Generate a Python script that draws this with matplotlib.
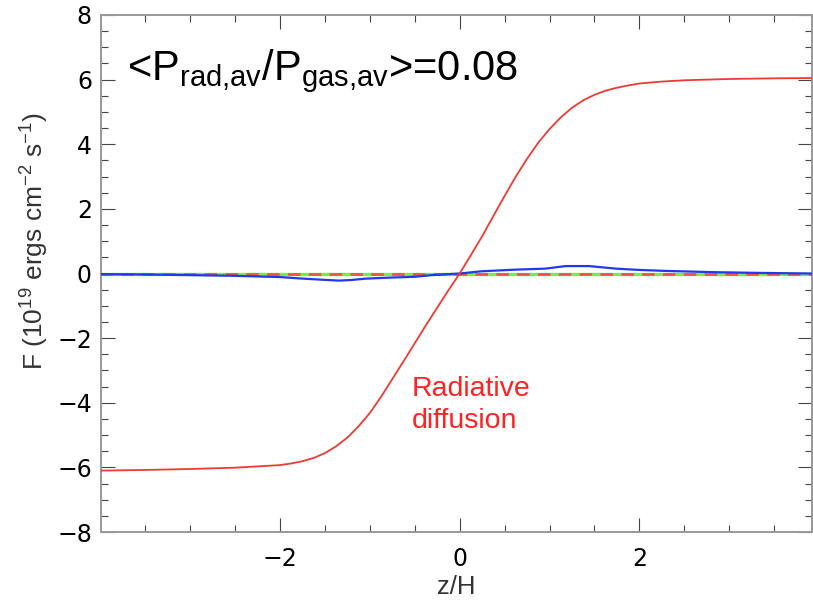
import matplotlib
matplotlib.use('Agg')
import matplotlib.pyplot as plt
from matplotlib.ticker import MultipleLocator, FixedLocator
import numpy as np

plt.rcParams['mathtext.fontset'] = 'custom'
plt.rcParams['mathtext.rm'] = 'Liberation Sans'
plt.rcParams['mathtext.it'] = 'Liberation Sans'

# vertical flux profiles across the disk, z in units of scale height H
z_rad = [-4.0, -3.5, -3.0, -2.5, -2.25, -2.0, -1.875, -1.75, -1.625, -1.5, -1.375,
         -1.25, -1.125, -1.0, -0.875, -0.75, -0.625, -0.5, -0.375, -0.25, -0.125,
         0.0, 0.125, 0.25, 0.375, 0.5, 0.625, 0.75, 0.875, 1.0, 1.125, 1.25, 1.375,
         1.5, 1.625, 1.75, 1.875, 2.0, 2.25, 2.5, 3.0, 3.5, 3.92]
F_rad = [-6.10, -6.08, -6.05, -6.01, -5.97, -5.93, -5.88, -5.81, -5.71, -5.56, -5.35,
         -5.08, -4.73, -4.32, -3.82, -3.27, -2.72, -2.16, -1.60, -1.06, -0.52,
         0.0, 0.57, 1.15, 1.78, 2.40, 3.00, 3.55, 4.05, 4.47, 4.83, 5.13, 5.36,
         5.53, 5.66, 5.75, 5.82, 5.88, 5.94, 5.98, 6.02, 6.04, 6.05]

z_adv = [-4.0, -3.5, -3.0, -2.53, -2.0, -1.79, -1.55, -1.34, -1.2, -1.05, -0.8,
         -0.49, -0.31, 0.0, 0.25, 0.63, 0.95, 1.18, 1.44, 1.74, 2.0, 2.29, 2.85,
         3.3, 3.59, 3.92]
F_adv = [-0.02, -0.03, -0.05, -0.07, -0.11, -0.15, -0.19, -0.22, -0.20, -0.16, -0.13,
         -0.10, -0.05, 0.0, 0.07, 0.12, 0.15, 0.23, 0.23, 0.15, 0.11, 0.08, 0.04,
         0.02, 0.01, 0.0]

z_flat = [-4.0, 3.92]
F_other = [0.0, 0.0]
F_total_err = [0.0, 0.0]

fig = plt.figure(figsize=(8.13, 6.0), dpi=100)
ax = fig.add_axes([101/813, 1 - 532/600, 711/813, 517/600])

ax.plot(z_flat, F_other, color='#77ee44', lw=2.4, zorder=2)
ax.plot(z_flat, F_total_err, color='#ee5544', lw=2.0, dashes=(4.5, 3), zorder=3)
ax.plot(z_adv, F_adv, color='#2238ee', lw=1.6, zorder=4)
ax.plot(z_rad, F_rad, color='#ee3a33', lw=1.3, zorder=5)

ax.set_xlim(-3.99, 3.92)
ax.set_ylim(-8, 8)
ax.xaxis.set_major_locator(FixedLocator([-2, 0, 2]))
ax.xaxis.set_minor_locator(MultipleLocator(0.5))
ax.yaxis.set_major_locator(MultipleLocator(2))
ax.yaxis.set_minor_locator(MultipleLocator(0.5))

ax.tick_params(which='both', direction='in', top=True, right=True,
               color='#444444', width=0.8)
ax.tick_params(which='major', length=10, labelsize=17)
ax.tick_params(which='minor', length=5)
ax.tick_params(axis='x', which='major', pad=11)
ax.tick_params(axis='y', which='major', pad=6.5)
for sp in ax.spines.values():
    sp.set_color('#999999')
    sp.set_linewidth(1.4)

ax.set_xlabel('z/H', family='Liberation Sans', fontsize=18.5, color='#333333')
ax.xaxis.set_label_coords(0.5, -(599 - 532) / 517, transform=ax.transAxes)
ax.xaxis.label.set_va('bottom')
ax.set_ylabel(r'F (10$^{19}$ ergs cm$^{-2}$ s$^{-1}$)', family='Liberation Sans',
              fontsize=19, color='#333333')
ax.yaxis.set_label_coords(-(101 - 19) / 711, (532 - 241) / 517)
ax.yaxis.label.set_va('top')

ax.text(127/813, 1 - 80/600, r'<P$_{\rm rad{,}av}$/P$_{\rm gas{,}av}$>=0.08',
        transform=fig.transFigure, family='Liberation Sans', fontsize=30,
        color='black', va='baseline', ha='left')
ax.text(412/813, 1 - 428/600, 'Radiative\ndiffusion', transform=fig.transFigure,
        family='Liberation Sans', fontsize=20.5, color='#ff2222',
        va='baseline', ha='left', linespacing=1.3)

fig.savefig('out.png', dpi=100)
